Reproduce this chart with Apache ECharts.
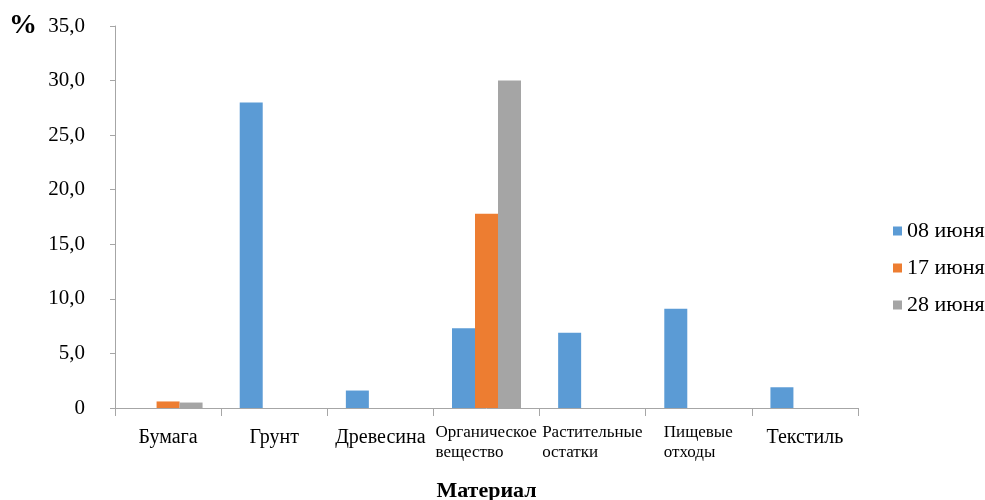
<!DOCTYPE html>
<html>
<head>
<meta charset="utf-8">
<script src="https://cdn.jsdelivr.net/npm/echarts@6/dist/echarts.min.js"></script>
<style>
  html, body { margin: 0; padding: 0; background: #ffffff; }
  #chart { width: 985px; height: 500px; }
</style>
</head>
<body>
<div id="chart"></div>
<script>
// Доля материалов в пробах, %
const categories = ['Бумага', 'Грунт', 'Древесина', 'Органическое\nвещество', 'Растительные\nостатки', 'Пищевые\nотходы', 'Текстиль'];
const seriesNames = ['08 июня', '17 июня', '28 июня'];
const june08 = [0, 28.0, 1.6, 7.3, 6.9, 9.1, 1.9];
const june17 = [0.6, 0, 0, 17.8, 0, 0, 0];
const june28 = [0.5, 0, 0, 30.0, 0, 0, 0];
const yTicks = { min: 0, max: 35, interval: 5 };

const colors = ['#5b9bd5', '#ed7d31', '#a5a5a5'];
const serif = '"Liberation Serif", "Times New Roman", serif';
const wrapSize = 17;

// measure text width so wrapped labels keep their lines left-aligned in a centred block
const measureCtx = document.createElement('canvas').getContext('2d');
function textWidth(str, size) {
  measureCtx.font = size + 'px ' + serif;
  return Math.ceil(measureCtx.measureText(str).width);
}
function blockWidth(value) {
  return Math.max.apply(null, value.split('\n').map(l => textWidth(l, wrapSize)));
}

function formatCategory(value) {
  const lines = value.split('\n');
  if (lines.length === 1) return '{s|' + value + '}';
  const key = 'w' + blockWidth(value);
  return lines.map(l => '{' + key + '|' + l + '}').join('\n');
}

const richStyles = { s: { fontSize: 20, lineHeight: 30, fontFamily: serif, color: '#000' } };
categories.forEach(c => {
  if (c.indexOf('\n') >= 0) {
    const w = blockWidth(c);
    richStyles['w' + w] = { width: w, align: 'left', fontSize: wrapSize, lineHeight: 20, fontFamily: serif, color: '#000' };
  }
});

const chart = echarts.init(document.getElementById('chart'), null, { renderer: 'canvas' });
chart.setOption({
  animation: false,
  backgroundColor: '#ffffff',
  color: colors,
  textStyle: { fontFamily: serif },
  grid: { left: 115, right: 127, top: 26, bottom: 92, containLabel: false, outerBoundsMode: 'none' },
  legend: {
    orient: 'vertical',
    left: 893,
    top: 220,
    padding: 0,
    icon: 'rect',
    itemWidth: 9,
    itemHeight: 9,
    itemGap: 15,
    textStyle: { fontSize: 22, fontFamily: serif, color: '#000' },
    data: seriesNames
  },
  graphic: [{
    type: 'text',
    left: 9,
    top: 12,
    style: { text: '%', font: 'bold 28px ' + serif, fill: '#000' }
  }],
  xAxis: {
    type: 'category',
    data: categories,
    name: 'Материал',
    nameLocation: 'middle',
    nameGap: 72,
    nameTextStyle: { fontSize: 22, fontWeight: 'bold', fontFamily: serif, color: '#000' },
    axisLine: { lineStyle: { color: '#a6a6a6', width: 1 } },
    axisTick: { show: true, length: 8, lineStyle: { color: '#a6a6a6' } },
    axisLabel: {
      interval: 0,
      margin: 15,
      verticalAlign: 'top',
      formatter: formatCategory,
      rich: richStyles
    },
    splitLine: { show: false }
  },
  yAxis: {
    type: 'value',
    min: yTicks.min,
    max: yTicks.max,
    interval: yTicks.interval,
    axisLine: { show: true, lineStyle: { color: '#a6a6a6', width: 1 } },
    axisTick: { show: true, length: 5, lineStyle: { color: '#a6a6a6' } },
    axisLabel: {
      margin: 30,
      fontSize: 21,
      fontFamily: serif,
      color: '#000',
      formatter: v => v === 0 ? '0' : v.toFixed(1).replace('.', ',')
    },
    splitLine: { show: false }
  },
  series: [
    { name: seriesNames[0], type: 'bar', data: june08, barGap: '0%', barCategoryGap: '35%' },
    { name: seriesNames[1], type: 'bar', data: june17, barGap: '0%', barCategoryGap: '35%' },
    { name: seriesNames[2], type: 'bar', data: june28, barGap: '0%', barCategoryGap: '35%' }
  ]
});
</script>
</body>
</html>
